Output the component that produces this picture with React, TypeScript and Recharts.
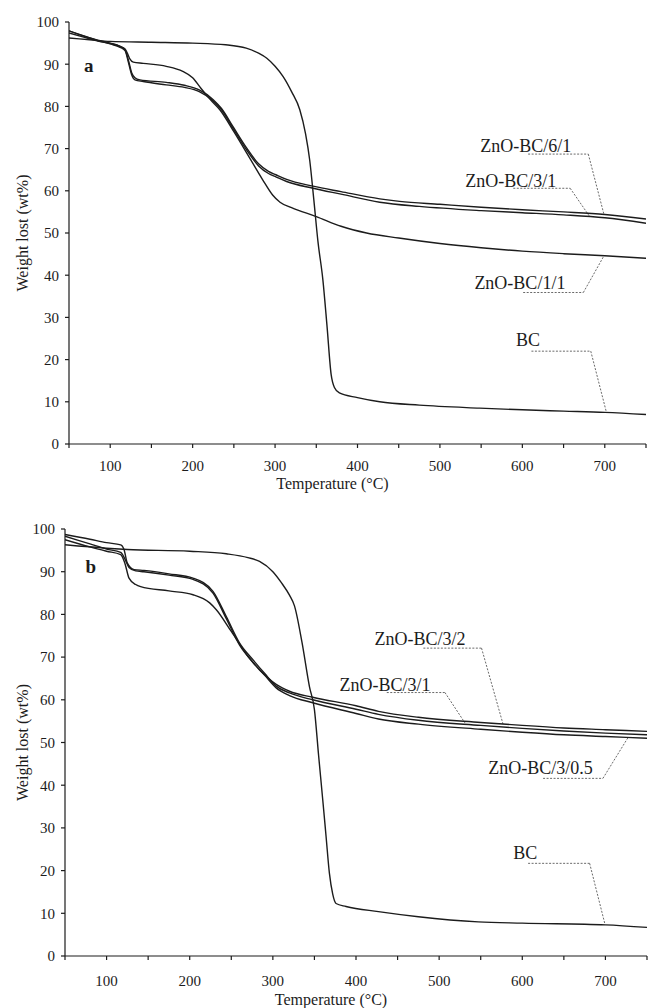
import React from 'react';
import { LineChart, Line, XAxis, YAxis, ReferenceLine, ReferenceDot } from 'recharts';

const FONT = '"Liberation Serif","Times New Roman",serif';
const INK = '#1c1c1c';

type Pt = [number, number];

// temperature ticks (every 50 °C, labels every 100 °C)
const xTicks = [50, 100, 150, 200, 250, 300, 350, 400, 450, 500, 550, 600, 650, 700, 750];
const xMajor = [100, 200, 300, 400, 500, 600, 700];
const yTicks = [0, 10, 20, 30, 40, 50, 60, 70, 80, 90, 100];

// ---- panel a ----
const bcA: Pt[] = [[50,96.2],[75,95.8],[100,95.4],[150,95.2],[200,95.0],[240,94.6],[265,93.8],[280,92.6],[290,91.4],[300,89.5],[310,87.0],[320,83.5],[330,79.2],[337,73.5],[342,67.3],[347,57.9],[352,48.0],[358,38.9],[363,28.0],[368,16.5],[372,13.4],[378,12.1],[400,11.0],[427,10.0],[475,9.2],[548,8.5],[600,8.1],[650,7.8],[700,7.5],[750,7.0]];
const zno11A: Pt[] = [[50,97.4],[70,96.3],[85,95.5],[100,94.9],[112,94.2],[118,93.6],[121,92.5],[124,91.2],[128,90.5],[140,90.2],[168,89.5],[188,88.3],[200,86.8],[210,84.3],[222,81.5],[233,79.2],[250,74.0],[270,67.5],[285,62.6],[297,59.0],[306,57.3],[320,56.0],[350,53.9],[380,51.6],[411,50.0],[450,48.8],[500,47.5],[550,46.5],[600,45.7],[650,45.1],[700,44.6],[750,44.0]];
const zno61A: Pt[] = [[50,97.9],[70,96.6],[85,95.7],[100,95.0],[112,94.2],[118,93.4],[122,91.0],[126,88.0],[130,86.8],[136,86.3],[168,85.7],[190,85.0],[208,83.9],[225,81.6],[235,79.5],[249,75.2],[265,70.3],[280,66.4],[292,64.6],[301,63.8],[314,62.7],[346,61.1],[380,59.8],[427,58.1],[451,57.5],[500,56.8],[550,56.1],[600,55.5],[650,55.0],[700,54.4],[750,53.3]];
const zno31A: Pt[] = [[50,97.9],[70,96.5],[85,95.6],[100,94.8],[112,94.0],[118,93.2],[122,90.5],[126,87.5],[130,86.3],[140,85.9],[168,85.1],[190,84.5],[208,83.5],[225,81.3],[235,79.2],[249,74.8],[265,69.8],[280,65.9],[292,64.1],[301,63.3],[314,62.2],[346,60.6],[380,59.2],[427,57.3],[475,56.3],[550,55.3],[600,54.8],[650,54.3],[700,53.6],[750,52.3]];

// ---- panel b ----
const bcB: Pt[] = [[50,96.3],[100,95.5],[125,95.2],[200,94.8],[244,94.2],[270,93.3],[284,92.4],[300,90.0],[310,87.5],[320,84.5],[326,82.0],[335,73.5],[344,63.1],[350,57.7],[355,47.0],[360,36.6],[364,28.0],[368,19.4],[372,14.5],[376,12.3],[388,11.6],[427,10.4],[475,9.2],[547,8.0],[600,7.7],[700,7.3],[750,6.7]];
const zno32B: Pt[] = [[50,97.5],[80,95.8],[100,94.8],[117,94.0],[122,92.0],[127,88.5],[135,87.0],[141,86.5],[175,85.5],[204,84.6],[224,82.7],[232,81.1],[250,76.0],[270,70.2],[284,67.0],[295,65.0],[304,63.6],[320,62.0],[348,60.6],[400,58.6],[427,57.3],[475,55.9],[550,54.7],[600,54.0],[650,53.4],[700,53.0],[750,52.6]];
const zno31B: Pt[] = [[50,98.7],[80,97.6],[100,96.8],[117,96.3],[121,95.2],[125,92.0],[133,90.5],[145,90.3],[175,89.5],[204,88.5],[228,85.4],[244,79.5],[260,73.3],[276,69.4],[290,66.2],[304,63.2],[320,61.6],[348,60.0],[400,57.8],[427,56.6],[475,55.2],[550,54.0],[600,53.3],[650,52.7],[700,52.2],[750,51.8]];
const zno305B: Pt[] = [[50,98.3],[80,96.5],[100,95.3],[117,94.5],[122,93.0],[127,91.0],[135,90.2],[145,90.0],[175,89.2],[204,88.2],[228,85.0],[244,79.0],[260,72.8],[276,68.8],[290,65.8],[304,62.8],[320,61.0],[348,59.3],[400,56.8],[427,55.5],[475,54.3],[550,53.1],[600,52.4],[650,51.8],[700,51.4],[750,51.0]];

// annotation texts (data coordinates) and leader polylines
type Note = { text: string; t: number; v: number; bold?: boolean };
const notesA: Note[] = [
  { text: 'ZnO-BC/6/1', t: 604, v: 70.6 },
  { text: 'ZnO-BC/3/1', t: 586, v: 62.3 },
  { text: 'ZnO-BC/1/1', t: 597, v: 38.1 },
  { text: 'BC', t: 607, v: 24.6 },
  { text: 'a', t: 74, v: 89.8, bold: true },
];
const leadersA: Pt[][] = [
  [[607, 68.7], [680, 68.7], [699, 54.4]],
  [[589, 60.6], [658, 60.6], [682, 53.8]],
  [[601, 35.9], [674, 35.9], [699, 44.6]],
  [[611, 22.0], [683, 22.0], [702, 7.5]],
];
const notesB: Note[] = [
  { text: 'ZnO-BC/3/2', t: 477, v: 74.2 },
  { text: 'ZnO-BC/3/1', t: 435, v: 63.5 },
  { text: 'ZnO-BC/3/0.5', t: 622, v: 44.0 },
  { text: 'BC', t: 603.5, v: 24.1 },
  { text: 'b', t: 81, v: 91.2, bold: true },
];
const leadersB: Pt[][] = [
  [[481, 72.1], [551, 72.1], [577, 54.2]],
  [[437, 61.7], [507, 61.7], [531, 54.6]],
  [[625, 41.6], [697, 41.6], [727, 51.1]],
  [[607, 21.7], [681, 21.7], [699.5, 7.4]],
];

const rows = (pts: Pt[]) => pts.map(([t, v]) => ({ t, v }));
const fmtX = (v: number) => (xMajor.includes(v) ? String(v) : '');

type PanelProps = {
  top: number; height: number; margin: { top: number; right: number; bottom: number; left: number };
  yWidth: number; series: Pt[][]; notes: Note[]; leaders: Pt[][]; xTickMargin: number;
  xTitleY: number; yTitleX: number;
};

function Panel(p: PanelProps) {
  const plotTop = p.margin.top;
  const plotBottom = p.height - p.margin.bottom - 50;
  const plotLeft = p.margin.left + p.yWidth;
  const plotRight = 648 - p.margin.right;
  return (
    <div style={{ position: 'absolute', left: 0, top: p.top }}>
      <LineChart width={648} height={p.height} margin={p.margin}>
        <XAxis xAxisId="x" type="number" dataKey="t" domain={[50, 750]} ticks={xTicks} tickFormatter={fmtX}
          allowDataOverflow interval={0} height={50} stroke={INK} strokeWidth={1.2} tickSize={4}
          tickMargin={p.xTickMargin} tick={{ fontSize: 15, fill: INK, fontFamily: FONT }} />
        <XAxis xAxisId="top" orientation="top" type="number" domain={[50, 750]} ticks={xMajor} height={0}
          stroke={INK} strokeWidth={1.2} tickSize={5} tick={false} interval={0} />
        <YAxis yAxisId="y" type="number" domain={[0, 100]} ticks={yTicks} interval={0} width={p.yWidth}
          stroke={INK} strokeWidth={1.2} tickSize={4} tickMargin={6} allowDataOverflow
          tick={{ fontSize: 15, fill: INK, fontFamily: FONT }} />
        <YAxis yAxisId="r" orientation="right" mirror type="number" domain={[0, 100]} ticks={yTicks}
          interval={0} width={0} stroke={INK} strokeWidth={1.2} tickSize={4} tick={false} />
        {p.leaders.map((ld, i) =>
          ld.slice(1).map((pt, j) => (
            <ReferenceLine key={`l${i}-${j}`} xAxisId="x" yAxisId="y" ifOverflow="visible"
              segment={[{ x: ld[j][0], y: ld[j][1] }, { x: pt[0], y: pt[1] }]}
              stroke="#6a6a6a" strokeWidth={1} strokeDasharray="2 1.5" />
          ))
        )}
        {p.series.map((s, i) => (
          <Line key={i} xAxisId="x" yAxisId="y" data={rows(s)} dataKey="v" type="monotone" dot={false}
            stroke={INK} strokeWidth={1.4} isAnimationActive={false} activeDot={false} />
        ))}
        {p.notes.map((n, i) => (
          <ReferenceDot key={`n${i}`} xAxisId="x" yAxisId="y" x={n.t} y={n.v} r={1} ifOverflow="visible"
            shape={(sp: any) => (
              <text x={sp.cx} y={sp.cy} textAnchor="middle" dominantBaseline="central"
                fontFamily={FONT} fontSize={n.bold ? 19 : 18} fontWeight={n.bold ? 'bold' : 'normal'} fill={INK}>
                {n.text}
              </text>
            )} />
        ))}
        <text x={(plotLeft + plotRight) / 2 - 25} y={p.xTitleY} textAnchor="middle" dominantBaseline="central"
          fontFamily={FONT} fontSize={16} fill={INK}>Temperature (°C)</text>
        <text x={p.yTitleX} y={(plotTop + plotBottom) / 2} textAnchor="middle" dominantBaseline="central"
          fontFamily={FONT} fontSize={16} fill={INK}
          transform={`rotate(-90 ${p.yTitleX} ${(plotTop + plotBottom) / 2})`}>Weight lost (wt%)</text>
      </LineChart>
    </div>
  );
}

export default function App() {
  return (
    <div style={{ position: 'absolute', left: 0, top: 0, width: 648, height: 1008, background: '#fff' }}>
      <Panel top={0} height={500} margin={{ top: 22, right: 2, bottom: 6, left: 0 }} yWidth={69}
        series={[bcA, zno11A, zno61A, zno31A]} notes={notesA} leaders={leadersA} xTickMargin={12}
        xTitleY={483} yTitleX={22} />
      <Panel top={500} height={508} margin={{ top: 29, right: 1, bottom: 2, left: 0 }} yWidth={65}
        series={[bcB, zno32B, zno31B, zno305B]} notes={notesB} leaders={leadersB} xTickMargin={15}
        xTitleY={499} yTitleX={22} />
    </div>
  );
}
